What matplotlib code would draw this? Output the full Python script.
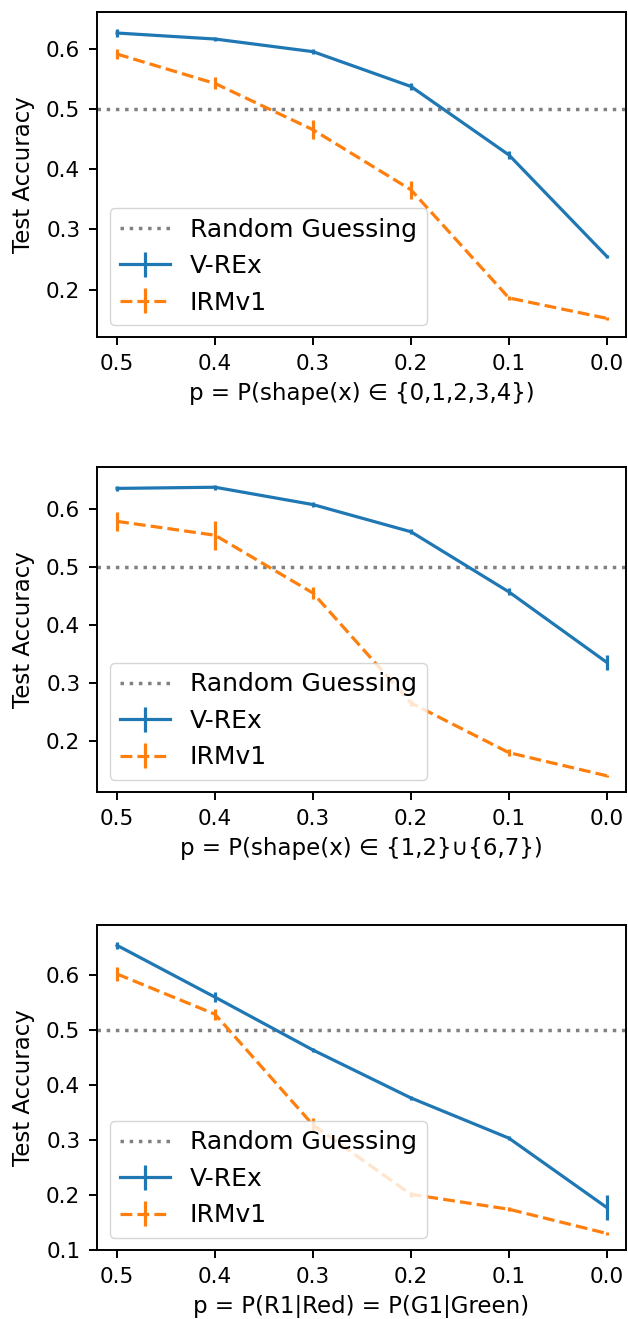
import matplotlib
matplotlib.use("Agg")
import matplotlib.pyplot as plt
import numpy as np

p_values = [0.5, 0.4, 0.3, 0.2, 0.1, 0.0]

# Panel 1
vrex_1 = [0.627, 0.617, 0.596, 0.538, 0.424, 0.255]
vrex_1_err = [0.006, 0.004, 0.004, 0.006, 0.007, 0.003]
irm_1 = [0.592, 0.543, 0.466, 0.366, 0.186, 0.152]
irm_1_err = [0.009, 0.010, 0.016, 0.015, 0.004, 0.003]

# Panel 2
vrex_2 = [0.636, 0.638, 0.608, 0.561, 0.457, 0.335]
vrex_2_err = [0.004, 0.004, 0.005, 0.004, 0.006, 0.013]
irm_2 = [0.579, 0.555, 0.455, 0.265, 0.179, 0.139]
irm_2_err = [0.016, 0.025, 0.010, 0.005, 0.006, 0.002]

# Panel 3
vrex_3 = [0.653, 0.559, 0.463, 0.376, 0.303, 0.177]
vrex_3_err = [0.006, 0.009, 0.004, 0.004, 0.004, 0.022]
irm_3 = [0.601, 0.528, 0.327, 0.201, 0.174, 0.130]
irm_3_err = [0.012, 0.010, 0.012, 0.004, 0.004, 0.002]

x_labels = [
    "p = P(shape(x) \u2208 {0,1,2,3,4})",
    "p = P(shape(x) \u2208 {1,2}\u222a{6,7})",
    "p = P(R1|Red) = P(G1|Green)",
]
ylims = [(0.121, 0.662), (0.111, 0.673), (0.100, 0.690)]
yticks = [[0.2, 0.3, 0.4, 0.5, 0.6], [0.2, 0.3, 0.4, 0.5, 0.6], [0.1, 0.2, 0.3, 0.4, 0.5, 0.6]]

panels = [
    (vrex_1, vrex_1_err, irm_1, irm_1_err),
    (vrex_2, vrex_2_err, irm_2, irm_2_err),
    (vrex_3, vrex_3_err, irm_3, irm_3_err),
]

W, H = 628, 1319
fig = plt.figure(figsize=(W / 100, H / 100), dpi=100)

# axes boxes in pixels: (left, top, right, bottom)
boxes = [(97, 12, 626, 337), (97, 467, 626, 792), (97, 925, 626, 1250)]

blue = "#1f77b4"
orange = "#ff7f0e"
lw = 2.3

for i, ((v, ve, r, re), (l, t, rr, b)) in enumerate(zip(panels, boxes)):
    ax = fig.add_axes([l / W, 1 - b / H, (rr - l) / W, (b - t) / H])
    ax.axhline(0.5, color="gray", linestyle=":", linewidth=2.5, label="Random Guessing")
    ax.errorbar(p_values, v, yerr=ve, color=blue, linewidth=lw, elinewidth=lw,
                capsize=0, label="V-REx")
    ax.errorbar(p_values, r, yerr=re, color=orange, linewidth=lw, elinewidth=lw,
                linestyle="--", capsize=0, label="IRMv1")
    ax.set_xlim(0.5205, -0.0195)
    ax.set_ylim(*ylims[i])
    ax.set_xticks(p_values)
    ax.set_xticklabels([f"{p:.1f}" for p in p_values])
    ax.set_yticks(yticks[i])
    ax.set_yticklabels([f"{y:.1f}" for y in yticks[i]])
    ax.tick_params(labelsize=15.5, length=5.5, width=1.4, pad=6.5)
    for s in ax.spines.values():
        s.set_linewidth(1.4)
    ax.set_xlabel(x_labels[i], fontsize=16.5, labelpad=6)
    ax.set_ylabel("Test Accuracy", fontsize=16.5, labelpad=8)
    ax.legend(loc="lower left", fontsize=18)

fig.savefig("out.png", dpi=100)
